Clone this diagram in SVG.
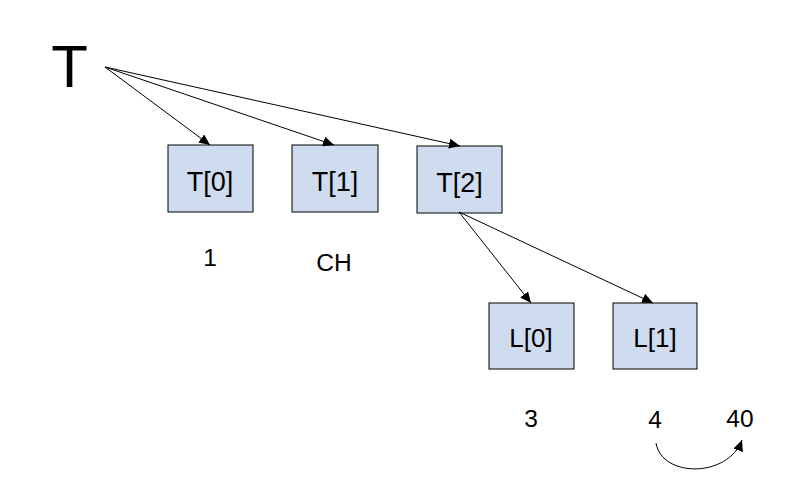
<svg xmlns="http://www.w3.org/2000/svg" width="810" height="499" viewBox="0 0 810 499">
<style>
.box{fill:#cfdcf0;stroke:#000;stroke-width:1}
.lbl{font-family:"Liberation Sans",Arial,sans-serif;font-size:27px;fill:#000;text-anchor:middle}
.lbl2{font-family:"Liberation Sans",Arial,sans-serif;font-size:26px;fill:#000;text-anchor:middle}
.val{font-family:"Liberation Sans",Arial,sans-serif;font-size:24.5px;fill:#000;text-anchor:middle}
.big{font-family:"Liberation Sans",Arial,sans-serif;font-size:60px;fill:#000;text-anchor:middle}
.edge{fill:none;stroke:#000;stroke-width:1;marker-end:url(#ah)}
</style>
<defs>
<marker id="ah" markerUnits="userSpaceOnUse" markerWidth="12" markerHeight="10" refX="11" refY="5" orient="auto">
<path d="M0,0 L11,5 L0,10 Z" fill="#000"/>
</marker>
</defs>
<rect width="810" height="499" fill="#fff"/>
<g id="root"><text class="big" x="69.5" y="87">T</text></g>
<g id="T0"><rect class="box" x="168" y="145" width="85" height="67"/><text class="lbl" x="210" y="191">T[0]</text></g>
<g id="T1"><rect class="box" x="292" y="145" width="86" height="67"/><text class="lbl" x="335" y="191">T[1]</text></g>
<g id="T2"><rect class="box" x="417" y="146" width="85" height="67"/><text class="lbl" x="459.5" y="192">T[2]</text></g>
<g id="L0"><rect class="box" x="489" y="303" width="85" height="66"/><text class="lbl2" x="531" y="347">L[0]</text></g>
<g id="L1"><rect class="box" x="613" y="303" width="84" height="66"/><text class="lbl2" x="655" y="347">L[1]</text></g>
<g id="v1"><text class="val" x="210" y="266">1</text></g>
<g id="vCH"><text class="val" x="334" y="271">CH</text></g>
<g id="v3"><text class="val" x="531" y="427">3</text></g>
<g id="v4"><text class="val" x="655" y="428">4</text></g>
<g id="v40"><text class="val" x="740" y="427">40</text></g>
<g id="connectors">
<line class="edge" x1="105" y1="67" x2="210" y2="145"/>
<line class="edge" x1="105" y1="67" x2="334" y2="145"/>
<line class="edge" x1="105" y1="67" x2="460" y2="146"/>
<line class="edge" x1="459" y1="212" x2="531" y2="303"/>
<line class="edge" x1="459" y1="212" x2="653" y2="303"/>
<path class="edge" d="M656,443 C662,478 728,478 742,440"/>
</g>
</svg>
